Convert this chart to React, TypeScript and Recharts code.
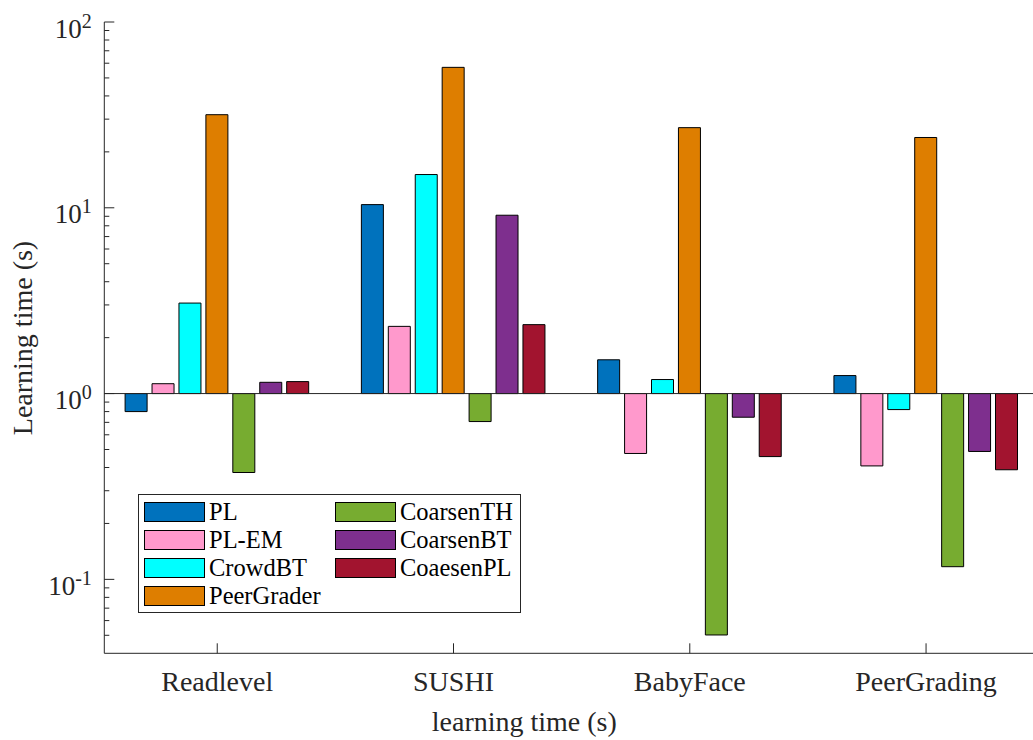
import React from 'react';
import { BarChart, Bar, XAxis, YAxis, ReferenceLine, Legend, Label } from 'recharts';

const FONT = '"Liberation Serif", "Times New Roman", serif';
const AXIS = '#262626';

// categories
const datasets = ['Readlevel', 'SUSHI', 'BabyFace', 'PeerGrading'];

// learning time (s) for each method, per dataset
const PL = [0.8, 10.4, 1.52, 1.25];
const PL_EM = [1.13, 2.3, 0.476, 0.408];
const CrowdBT = [3.07, 15.1, 1.19, 0.82];
const PeerGrader = [31.7, 57.0, 27.0, 23.9];
const CoarsenTH = [0.376, 0.707, 0.0502, 0.117];
const CoarsenBT = [1.15, 9.12, 0.746, 0.488];
const CoaesenPL = [1.16, 2.35, 0.458, 0.389];

// log axis ticks
const majorTicks = [0.1, 1, 10, 100];
const minorTicks = [
  0.05, 0.06, 0.07, 0.08, 0.09,
  0.2, 0.3, 0.4, 0.5, 0.6, 0.7, 0.8, 0.9,
  2, 3, 4, 5, 6, 7, 8, 9,
  20, 30, 40, 50, 60, 70, 80, 90,
];
const yTicks = [...majorTicks, ...minorTicks].sort((a, b) => a - b);
const xTicks = datasets.map((_, i) => i + 1);

const series = [
  { name: 'PL', values: PL, color: '#0072BD' },
  { name: 'PL-EM', values: PL_EM, color: '#FF99CC' },
  { name: 'CrowdBT', values: CrowdBT, color: '#00FFFF' },
  { name: 'PeerGrader', values: PeerGrader, color: '#DE7E00' },
  { name: 'CoarsenTH', values: CoarsenTH, color: '#77AC30' },
  { name: 'CoarsenBT', values: CoarsenBT, color: '#7E2F8E' },
  { name: 'CoaesenPL', values: CoaesenPL, color: '#A2142F' },
];

const data = datasets.map((name, i) => {
  const row: Record<string, any> = { name, pos: i + 1 };
  series.forEach((s) => (row[s.name] = s.values[i]));
  return row;
});

// matlab draws log bars from a baseline of 1
const fromOne = (v: number) => (v < 1 ? [v, 1] : [1, v]);

const isMajor = (v: number) => majorTicks.includes(v);

const LeftTick = ({ x, y, payload }: any) => {
  const v = payload.value;
  const exp = Math.round(Math.log10(v));
  return (
    <g>
      <line x1={x} x2={x + (isMajor(v) ? 10 : 5)} y1={y} y2={y} stroke={AXIS} />
      {isMajor(v) && (
        <text x={x - 12.5} y={y + 15.5} textAnchor="end" fontFamily={FONT} fontSize={27} fill={AXIS}>
          10
          <tspan dy={-10} fontSize={20}>{exp}</tspan>
        </text>
      )}
    </g>
  );
};

const RightTick = ({ x, y, payload }: any) => (
  <line x1={x} x2={x - (isMajor(payload.value) ? 10 : 5)} y1={y} y2={y} stroke={AXIS} />
);

const BottomTick = ({ x, y, payload }: any) => (
  <g>
    <line x1={x} x2={x} y1={y} y2={y - 10} stroke={AXIS} />
    <text x={x} y={y + 37.5} textAnchor="middle" fontFamily={FONT} fontSize={28} fill={AXIS}>
      {datasets[payload.value - 1]}
    </text>
  </g>
);

const TopTick = ({ x, y }: any) => <line x1={x} x2={x} y1={y} y2={y + 10} stroke={AXIS} />;

const XTitle = ({ viewBox }: any) => (
  <text x={viewBox.x + 420} y={viewBox.y + 78} textAnchor="middle" fontFamily={FONT} fontSize={28} fill={AXIS}>
    learning time (s)
  </text>
);

const YTitle = ({ viewBox }: any) => {
  const cx = viewBox.x + 28;
  const cy = 338;
  return (
    <text x={cx} y={cy} transform={`rotate(-90, ${cx}, ${cy})`} textAnchor="middle" fontFamily={FONT} fontSize={28} fill={AXIS}>
      Learning time (s)
    </text>
  );
};

// legend keeps the series order (two columns, filled top to bottom)
const LegendBox = () => (
  <div
    style={{
      boxSizing: 'border-box',
      width: 383,
      height: 119,
      border: `1px solid ${AXIS}`,
      background: '#fff',
      display: 'grid',
      gridTemplateRows: 'repeat(4, 28px)',
      gridTemplateColumns: '191px 1fr',
      gridAutoFlow: 'column',
      padding: '7px 0 0 5px',
      fontFamily: FONT,
      fontSize: 24.5,
      color: '#000',
    }}
  >
    {series.map((s) => (
      <div key={s.name} style={{ display: 'flex', alignItems: 'center', height: 20, alignSelf: 'start' }}>
        <span
          style={{
            boxSizing: 'border-box',
            width: 61,
            height: 20,
            background: s.color,
            border: '1px solid #000',
            marginRight: 4,
            flex: 'none',
          }}
        />
        <span style={{ lineHeight: '20px', whiteSpace: 'nowrap' }}>{s.name}</span>
      </div>
    ))}
  </div>
);

export default function App() {
  return (
    <div style={{ position: 'absolute', left: 0, top: 0, width: 1033, height: 740, overflow: 'hidden', background: '#fff' }}>
      <BarChart
        width={1045}
        height={740}
        data={data}
        margin={{ top: 22, right: 6, bottom: 0, left: 4 }}
        barSize={22}
        barGap={4.93}
      >
        <XAxis
          dataKey="pos"
          type="number"
          domain={[0.522, 4.478]}
          allowDataOverflow
          ticks={xTicks}
          interval={0}
          height={86.7}
          tickSize={0}
          tickMargin={0}
          tickLine={false}
          axisLine={{ stroke: AXIS }}
          tick={<BottomTick />}
        >
          <Label content={<XTitle />} />
        </XAxis>
        <XAxis
          xAxisId="top"
          orientation="top"
          dataKey="pos"
          type="number"
          domain={[0.522, 4.478]}
          allowDataOverflow
          ticks={xTicks}
          interval={0}
          height={0}
          tickSize={0}
          tickMargin={0}
          tickLine={false}
          axisLine={{ stroke: AXIS }}
          tick={<TopTick />}
        />
        <YAxis
          type="number"
          scale="log"
          domain={[0.04, 100]}
          allowDataOverflow
          ticks={yTicks}
          interval={0}
          width={100.3}
          tickSize={0}
          tickMargin={0}
          tickLine={false}
          axisLine={{ stroke: AXIS }}
          tick={<LeftTick />}
        >
          <Label content={<YTitle />} />
        </YAxis>
        <YAxis
          yAxisId="right"
          orientation="right"
          type="number"
          scale="log"
          domain={[0.04, 100]}
          allowDataOverflow
          ticks={yTicks}
          interval={0}
          width={0}
          tickSize={0}
          tickMargin={0}
          tickLine={false}
          axisLine={{ stroke: AXIS }}
          tick={<RightTick />}
        />
        {series.map((s) => (
          <Bar
            key={s.name}
            name={s.name}
            dataKey={(d: any) => fromOne(d[s.name])}
            fill={s.color}
            stroke="#000"
            strokeWidth={1}
            isAnimationActive={false}
          />
        ))}
        <ReferenceLine y={1} stroke={AXIS} strokeWidth={1} />
        <Legend
          layout="vertical"
          align="center"
          verticalAlign="middle"
          content={<LegendBox />}
          wrapperStyle={{ left: 138, top: 494, width: 383, height: 119 }}
        />
      </BarChart>
    </div>
  );
}
